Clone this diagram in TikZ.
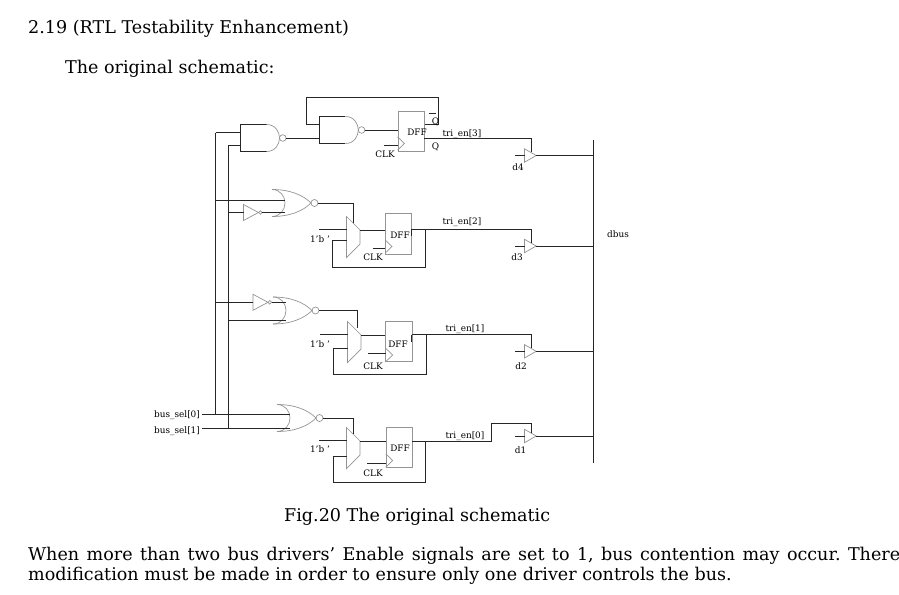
\documentclass[tikz,border=0pt]{standalone}
\usepackage{fontspec}
\setmainfont{DejaVu Serif}
\frenchspacing
\tikzset{
    shape line/.style={draw=black!42,line width=.7pt},
    wire/.style={draw=black!85,line width=.85pt},
    small text/.style={inner sep=0pt,yshift=-.8pt,font=\fontsize{8.9}{10}\selectfont},
    body text/.style={anchor=base west,inner sep=0pt,font=\fontsize{17.55}{20}\selectfont},
    dffbox/.style={shape line,fill=white,minimum width=26.5pt,minimum height=40.5pt,inner sep=0pt},
    nandgate/.pic={
        \draw[wire] (26,-13.5) -- (0,-13.5) -- (0,13.5) -- (26,13.5);
        \draw[shape line] (26,-13.5) .. controls (35,-13.5) and (39,-6) .. (39,0) .. controls (39,6) and (35,13.5) .. (26,13.5);
        \draw[shape line] (42.3,0) circle (3.3);
        \coordinate (-a) at (0,-5.5);
        \coordinate (-b) at (0,7.5);
        \coordinate (-out) at (45.6,0);
    },
    norgate/.pic={
        \draw[shape line] (0,-13.5) .. controls (8,-13.5) and (13,-7) .. (13,0) .. controls (13,7) and (8,13.5) .. (0,13.5);
        \draw[shape line] (0,-13.5) .. controls (18,-13.5) and (31,-8) .. (39,0) .. controls (31,8) and (18,13.5) .. (0,13.5);
        \draw[shape line] (42.5,0) circle (3.5);
        \coordinate (-a) at (12.5,-3);
        \coordinate (-b) at (12.5,9.5);
        \coordinate (-out) at (46,0);
    },
    notgate/.pic={
        \draw[shape line] (0,-8) -- (15,0) -- (0,8) -- cycle;
        \draw[shape line] (16.8,0) circle (1.8);
        \coordinate (-in) at (0,0);
        \coordinate (-out) at (18.6,0);
    },
    muxgate/.pic={
        \draw[shape line,fill=white] (0,-20.5) -- (13.5,-7) -- (13.5,7) -- (0,20.5) -- cycle;
        \coordinate (-sel) at (7,-13.7);
        \coordinate (-a) at (0,-8);
        \coordinate (-b) at (0,3);
        \coordinate (-out) at (13.5,-7);
    },
    bufgate/.pic={
        \draw[shape line,fill=white] (0,-6.7) -- (11.7,0) -- (0,6.7) -- cycle;
        \coordinate (-in) at (0,0);
        \coordinate (-en) at (6.5,-3.2);
        \coordinate (-out) at (11.7,0);
    },
    clktri/.pic={
        \draw[shape line] (0,-6.7) -- (7,0) -- (0,6.7);
    },
}
\begin{document}
\begin{tikzpicture}[x=1pt,y=-1pt]
    \useasboundingbox (0,0) rectangle (899,594);
    % text around the schematic
    \node[body text] (title) at (28,34) {2.19 (RTL Testability Enhancement)};
    \node[body text] (intro) at (65,74) {The original schematic:};
    \node[body text] (caption) at (284,521) {Fig.20 The original schematic};
    \node[body text] (para1) at (28,560) {\hbox to 872pt{When more than two bus drivers’ Enable signals are set to 1, bus contention may occur. There}};
    \node[body text] (para2) at (28,580) {modification must be made in order to ensure only one driver controls the bus.};
    % gates
    \pic (nanda) at (240.5,138) {nandgate};
    \pic (nandb) at (319.3,130) {nandgate};
    \pic (nora) at (272,203) {norgate};
    \pic (norb) at (273,310.5) {norgate};
    \pic (norc) at (277,418) {norgate};
    \pic (nota) at (243.5,212.5) {notgate};
    \pic (notb) at (253,302.3) {notgate};
    \pic (muxa) at (346.5,237) {muxgate};
    \pic (muxb) at (347.5,342) {muxgate};
    \pic (muxc) at (346.5,448) {muxgate};
    \node[dffbox,anchor=north west] (dffa) at (397.5,110.5) {};
    \node[dffbox,anchor=north west] (dffb) at (384.5,213) {};
    \node[dffbox,anchor=north west] (dffc) at (385.3,320.5) {};
    \node[dffbox,anchor=north west] (dffd) at (385.7,426.5) {};
    \pic at (397.5,143.5) {clktri};
    \pic at (385,246.5) {clktri};
    \pic at (385.7,355) {clktri};
    \pic at (385.7,460.5) {clktri};
    \pic (bufa) at (524.5,155.5) {bufgate};
    \pic (bufb) at (524.5,246) {bufgate};
    \pic (bufc) at (524.5,351.3) {bufgate};
    \pic (bufd) at (524.5,436) {bufgate};
    % free wire ends
    \coordinate (busa) at (215.5,132.5);
    \coordinate (busb) at (228,145.5);
    \coordinate (bustop) at (593.5,140);
    \coordinate (busbot) at (593.5,463);
    \coordinate (sela) at (202,414.7);
    \coordinate (selb) at (202,428.3);
    % select lines
    \draw[wire] (busa) -- (nanda-a);
    \draw[wire] (busb) -- (nanda-b);
    \draw[wire] (busa) -- (busa |- sela);
    \draw[wire] (busb) -- (busb |- selb);
    \draw[wire] (sela) -- (norc-a |- sela);
    \draw[wire] (selb) -- (norc-b |- selb);
    \draw[wire] (busa |- nora-a) -- (nora-a);
    \draw[wire] (busb |- nota-in) -- (nota-in);
    \draw[wire] (nota-out) -- (nora-b |- nota-out);
    \draw[wire] (busa |- notb-in) -- (notb-in);
    \draw[wire] (notb-out) -- (norb-a |- notb-out);
    \draw[wire] (busb |- norb-b) -- (norb-b);
    % first stage
    \draw[wire] (nanda-out) -- (nandb-a |- nanda-out);
    \draw[wire] (nandb-out) -- (nandb-out -| dffa.west);
    \coordinate (fba) at (306,124.3);
    \coordinate (fbb) at (438,97);
    \draw[wire] (nandb-a |- fba) -- (fba) -- (fba |- fbb) -- (fbb) -- (fbb |- fba) -- (dffa.east |- fba);
    \coordinate (outa) at (424,138);
    \coordinate (outb) at (411,229.5);
    \coordinate (outc) at (411.8,334.5);
    \coordinate (outd) at (412.2,441.7);
    \draw[wire] (outa) -- (bufa-en |- outa) -- (bufa-en);
    \draw[wire] (outb) -- (bufb-en |- outb) -- (bufb-en);
    \draw[wire] (outc) -- (bufc-en |- outc) -- (bufc-en);
    \coordinate (stepa) at (491.7,423.3);
    \draw[wire] (outd) -- (stepa |- outd) -- (stepa) -- (bufd-en |- stepa) -- (bufd-en);
    \draw[wire] (outb) -- ++(0,6);
    \draw[wire] (outc) -- ++(0,7);
    % mux wiring
    \coordinate (pinb) at (357,328);
    \draw[wire] (nora-out) -- (muxa-sel |- nora-out) -- (muxa-sel);
    \draw[wire] (norb-out) -- (pinb |- norb-out) -- (pinb);
    \draw[wire] (norc-out) -- (muxc-sel |- norc-out) -- (muxc-sel);
    \draw[wire] (muxa-out) -- (dffb.west |- muxa-out);
    \draw[wire] (muxb-out) -- (dffc.west |- muxb-out);
    \draw[wire] (muxc-out) -- (dffd.west |- muxc-out);
    \coordinate (loopa) at (425.5,267);
    \coordinate (loopb) at (426.5,374.5);
    \coordinate (loopc) at (425.7,482.7);
    \draw[wire] (muxa-b) -- (332.7,240) -- (332.7,267) -- (loopa) -- (loopa |- outb);
    \draw[wire] (347.5,348) -- (333.3,348) -- (333.3,374.5) -- (loopb) -- (loopb |- outc);
    \draw[wire] (346.5,456) -- (333.3,456) -- (333.3,482.7) -- (loopc) -- (loopc |- outd);
    \draw[wire] (319,229) -- (muxa-a);
    \draw[wire] (320,334) -- (muxb-a);
    \draw[wire] (319,440) -- (muxc-a);
    % clock pins
    \draw[wire] (384.3,145.3) -- (397.5,145.3);
    \draw[wire] (372.7,248.3) -- (385,248.3);
    \draw[wire] (368.3,353.3) -- (385.7,353.3);
    \draw[wire] (367.3,463.3) -- (385.7,463.3);
    \draw[wire] (429,113.5) -- (435.5,113.5);
    % tri state drivers and bus
    \draw[wire] (515,155.5) -- (bufa-in);
    \draw[wire] (515,246) -- (bufb-in);
    \draw[wire] (515,351.3) -- (bufc-in);
    \draw[wire] (515,436) -- (bufd-in);
    \draw[wire] (bufa-out) -- (bufa-out -| bustop);
    \draw[wire] (bufb-out) -- (bufb-out -| bustop);
    \draw[wire] (bufc-out) -- (bufc-out -| bustop);
    \draw[wire] (bufd-out) -- (bufd-out -| bustop);
    \draw[wire] (bustop) -- (busbot);
    % labels
    \node[small text] (lbdffa) at (417,131) {DFF};
    \node[small text] (lbdffb) at (400,234) {DFF};
    \node[small text] (lbdffc) at (398,343) {DFF};
    \node[small text] (lbdffd) at (400,447.5) {DFF};
    \node[small text] (lbclka) at (385,153) {CLK};
    \node[small text] (lbclkb) at (373,256) {CLK};
    \node[small text] (lbclkc) at (373,365) {CLK};
    \node[small text] (lbclkd) at (373,472) {CLK};
    \node[small text] (lbqn) at (435.5,121) {Q};
    \node[small text] (lbq) at (435.5,146) {Q};
    \node[small text] (lbconsta) at (320,238) {1'b '};
    \node[small text] (lbconstb) at (320,343) {1'b '};
    \node[small text] (lbconstc) at (320,448) {1'b '};
    \node[small text] (lbena) at (462,133) {tri\_en[3]};
    \node[small text] (lbenb) at (462,221) {tri\_en[2]};
    \node[small text] (lbenc) at (465,328) {tri\_en[1]};
    \node[small text] (lbend) at (465,435) {tri\_en[0]};
    \node[small text] (lbda) at (518,166) {d4};
    \node[small text] (lbdb) at (517,256) {d3};
    \node[small text] (lbdc) at (521,365) {d2};
    \node[small text] (lbdd) at (520.5,449) {d1};
    \node[small text] (lbbus) at (618,233) {dbus};
    \node[small text] (lbsela) at (177,414) {bus\_sel[0]};
    \node[small text] (lbselb) at (177,430) {bus\_sel[1]};
\end{tikzpicture}
\end{document}
